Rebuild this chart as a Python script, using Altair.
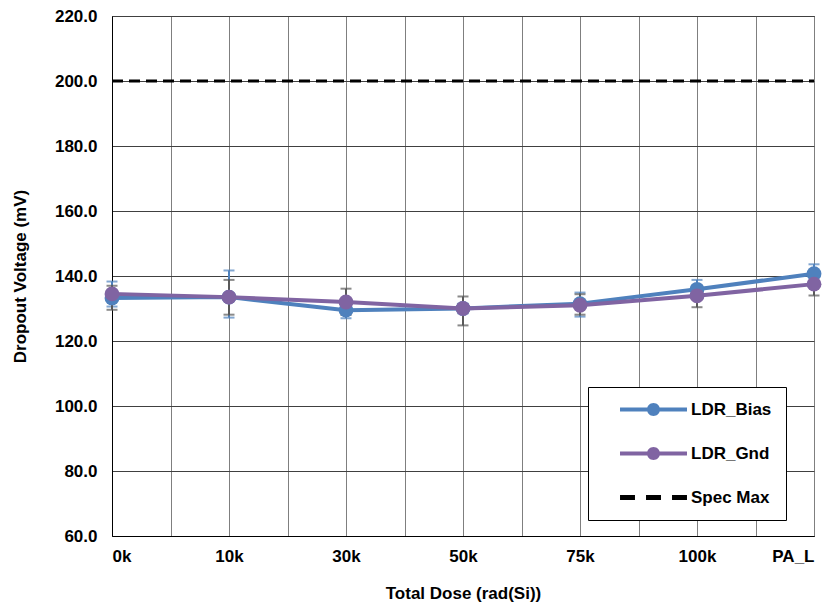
import altair as alt
import pandas as pd

categories = ["0k", "10k", "30k", "50k", "75k", "100k", "PA_L"]
bias = [133.2, 133.5, 129.5, 130.0, 131.5, 135.9, 140.7]
bias_hi = [138.3, 141.7, 131.8, 131.5, 134.9, 138.8, 143.6]
bias_lo = [130.6, 127.2, 127.0, 128.5, 127.5, 133.0, 138.0]
gnd = [134.5, 133.5, 132.0, 130.0, 131.0, 133.9, 137.5]
gnd_hi = [137.0, 138.8, 136.1, 133.7, 134.4, 137.0, 140.5]
gnd_lo = [129.6, 128.1, 128.0, 124.8, 128.1, 130.4, 134.0]
spec_max = 200.0
series_names = ["LDR_Bias", "LDR_Gnd", "Spec Max"]
y_ticks = [60, 80, 100, 120, 140, 160, 180, 200, 220]

BLUE = "#4F81BD"
PURPLE = "#8064A2"
GRAY = "#595959"
FONT = "Liberation Sans"
FS = 17

idx = list(range(len(categories)))
df_b = pd.DataFrame({"x": idx, "cat": categories, "y": bias, "lo": bias_lo, "hi": bias_hi})
df_g = pd.DataFrame({"x": idx, "cat": categories, "y": gnd, "lo": gnd_lo, "hi": gnd_hi})
df_s = pd.DataFrame({"x": [0, len(categories) - 1], "y": [spec_max, spec_max]})
df_leg = pd.DataFrame({"x": [0, 0, 0], "y": [0, 0, 0], "series": series_names})

label_js = "[" + ",".join("'" + c + "'" for c in categories) + "]"
xvals = [i * 0.5 for i in range(2 * (len(categories) - 1) + 1)]

x_enc = alt.X(
    "x:Q",
    scale=alt.Scale(domain=[0, len(categories) - 1], nice=False, zero=False),
    axis=alt.Axis(
        values=xvals,
        labelExpr="datum.value % 1 == 0 ? " + label_js + "[datum.value] : ''",
        title="Total Dose (rad(Si))",
        ticks=False,
        labelPadding=12,
        labelFontSize=FS,
        labelFontWeight="bold",
        labelFont=FONT,
        labelColor="#000",
        titleFontSize=FS,
        titleFontWeight="bold",
        titleFont=FONT,
        titleColor="#000",
        titleX=351,
        titleY=57,
        titleBaseline="middle",
        gridColor="#7f7f7f",
        gridWidth=1,
        domainColor="#000",
    ),
)
y_scale = alt.Scale(domain=[60, 220], nice=False, zero=False)
y_enc = alt.Y(
    "y:Q",
    scale=y_scale,
    axis=alt.Axis(
        values=y_ticks,
        format=".1f",
        title="Dropout Voltage (mV)",
        ticks=False,
        labelPadding=15,
        labelFontSize=FS,
        labelFontWeight="bold",
        labelFont=FONT,
        labelColor="#000",
        titleFontSize=FS,
        titleFontWeight="bold",
        titleFont=FONT,
        titleColor="#000",
        titleX=-92,
        titleY=260,
        titleBaseline="middle",
        titleAngle=-90,
        gridColor="#404040",
        gridWidth=1,
        domainColor="#000",
    ),
)


def err_layers(df, color):
    rule = alt.Chart(df).mark_rule(color=color, strokeWidth=2).encode(
        x=x_enc, y=alt.Y("lo:Q", scale=y_scale), y2="hi:Q"
    )
    cap_lo = alt.Chart(df).mark_tick(color=color, orient="horizontal", size=11, thickness=2).encode(
        x=x_enc, y=alt.Y("lo:Q", scale=y_scale)
    )
    cap_hi = alt.Chart(df).mark_tick(color=color, orient="horizontal", size=11, thickness=2).encode(
        x=x_enc, y=alt.Y("hi:Q", scale=y_scale)
    )
    return [rule, cap_lo, cap_hi]


def series_layers(df, color):
    line = alt.Chart(df).mark_line(color=color, strokeWidth=4).encode(x=x_enc, y=y_enc)
    pts = alt.Chart(df).mark_point(color=color, filled=True, size=220, opacity=1).encode(x=x_enc, y=y_enc)
    return [line, pts]


spec = alt.Chart(df_s).mark_line(color="#000", strokeWidth=3, strokeDash=[11, 6]).encode(x=x_enc, y=y_enc)

# legend symbols: unit = 6.5 px (symbol size 169 -> sqrt 13)
line_circle = (
    "M-5.15,-0.3L-0.9,-0.3L-0.9,0.3L-5.15,0.3Z"
    "M0.9,-0.3L5.15,-0.3L5.15,0.3L0.9,0.3Z"
    "M1,0A1,1 0 1,1 -1,0A1,1 0 1,1 1,0Z"
)
dashes = (
    "M-5.15,-0.38L-2.85,-0.38L-2.85,0.38L-5.15,0.38Z"
    "M-1.15,-0.38L1.15,-0.38L1.15,0.38L-1.15,0.38Z"
    "M2.85,-0.38L5.15,-0.38L5.15,0.38L2.85,0.38Z"
)

legend_layer = alt.Chart(df_leg).mark_point(filled=True, size=169, opacity=1, clip=True).encode(
    x=x_enc,
    y=y_enc,
    color=alt.Color(
        "series:N",
        scale=alt.Scale(domain=series_names, range=[BLUE, PURPLE, "#000"]),
        legend=alt.Legend(title=None),
    ),
    shape=alt.Shape(
        "series:N",
        scale=alt.Scale(domain=series_names, range=[line_circle, line_circle, dashes]),
        legend=alt.Legend(title=None),
    ),
)

layers = (
    [spec]
    + err_layers(df_b, BLUE)
    + err_layers(df_g, GRAY)
    + series_layers(df_b, BLUE)
    + series_layers(df_g, PURPLE)
    + [legend_layer]
)

chart = (
    alt.layer(*layers)
    .properties(
        width=702,
        height=520,
        autosize=alt.AutoSizeParams(type="none"),
        padding={"left": 104, "top": 8, "right": 12, "bottom": 66},
        background="white",
    )
    .configure_view(stroke="#000", strokeWidth=1)
    .configure_legend(
        orient="none",
        legendX=476,
        legendY=371,
        strokeColor="#000",
        fillColor="#fff",
        padding=14,
        symbolOffset=43,
        symbolSize=169,
        labelFontSize=FS,
        labelFontWeight="bold",
        labelFont=FONT,
        labelColor="#000",
        labelOffset=29,
        rowPadding=26,
        symbolStrokeWidth=0,
    )
)

chart.save("out.html", embed_options={"renderer": "svg", "actions": False})
